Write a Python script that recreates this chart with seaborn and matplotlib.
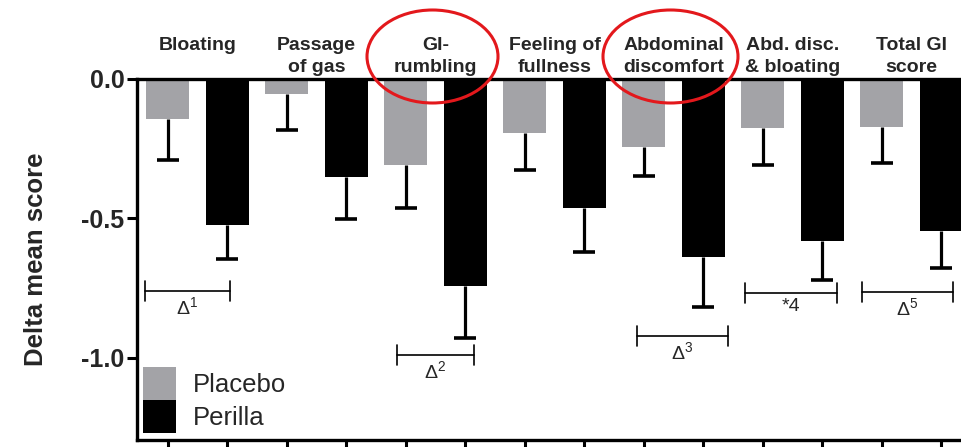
import numpy as np
import pandas as pd
import matplotlib
matplotlib.use("Agg")
import matplotlib.pyplot as plt
from matplotlib.patches import Ellipse
import seaborn as sns

categories = ["Bloating", "Passage\nof gas", "GI-\nrumbling", "Feeling of\nfullness",
              "Abdominal\ndiscomfort", "Abd. disc.\n& bloating", "Total GI\nscore"]
groups = ["Placebo", "Perilla"]
placebo = [-0.144, -0.054, -0.309, -0.195, -0.244, -0.177, -0.172]
perilla = [-0.524, -0.352, -0.743, -0.464, -0.640, -0.582, -0.546]
placebo_err = [0.146, 0.129, 0.155, 0.132, 0.103, 0.132, 0.130]
perilla_err = [0.122, 0.151, 0.187, 0.156, 0.178, 0.138, 0.134]

# significance brackets: (x start, x end, y, label)
brackets = [(-0.44, 0.27, -0.761, r"$\Delta^{1}$"),
            (1.68, 2.32, -0.991, r"$\Delta^{2}$"),
            (3.69, 4.46, -0.923, r"$\Delta^{3}$"),
            (4.60, 5.37, -0.768, "*4"),
            (5.58, 6.35, -0.765, r"$\Delta^{5}$")]

sns.set_theme(style="white")
plt.rcParams["font.family"] = ["Liberation Sans", "DejaVu Sans"]
plt.rcParams["mathtext.fontset"] = "custom"
plt.rcParams["mathtext.rm"] = "Liberation Sans"
plt.rcParams["mathtext.it"] = "Liberation Sans"

df = pd.DataFrame({
    "category": categories * 2,
    "group": [groups[0]] * len(categories) + [groups[1]] * len(categories),
    "value": placebo + perilla,
})

colors = {"Placebo": "#a3a3a7", "Perilla": "#000000"}

fig = plt.figure(figsize=(9.61, 4.47), dpi=100)
ax = fig.add_axes([137 / 961, 7 / 447, 1 - 137 / 961, (440 - 79) / 447])

sns.barplot(data=df, x="category", y="value", hue="group", order=categories,
            hue_order=groups, palette=colors, width=1.0, gap=0.28,
            saturation=1, errorbar=None, ax=ax, linewidth=0)

idx = np.arange(len(categories))
cap_half = 0.0925
for off, vals, errs in [(-0.25, placebo, placebo_err), (0.25, perilla, perilla_err)]:
    xs = idx + off
    lows = np.array(vals) - np.array(errs)
    ax.vlines(xs, vals, lows, color="black", lw=2.3, zorder=3)
    ax.hlines(lows, xs - cap_half, xs + cap_half, color="black", lw=2.6, zorder=3)

for x0, x1, y, lab in brackets:
    ax.plot([x0, x1], [y, y], color="black", lw=1.2)
    ax.plot([x0, x0], [y - 0.036, y + 0.036], color="black", lw=1.2)
    ax.plot([x1, x1], [y - 0.036, y + 0.036], color="black", lw=1.2)
    ax.text((x0 + x1) / 2, y - 0.02, lab, ha="center", va="top", fontsize=14)

ax.set_xlim(-0.508, 6.416)
ax.set_ylim(-1.296, 0)
ax.set_yticks([0.0, -0.5, -1.0])
ax.set_yticklabels(["0.0", "-0.5", "-1.0"], fontsize=18, fontweight="bold")
ax.set_xticks(np.concatenate([idx - 0.25, idx + 0.25]))
ax.set_xticklabels([])
ax.set_xlabel("")
ax.set_ylabel("Delta mean score", fontsize=18.5, fontweight="bold", labelpad=24)
ax.tick_params(axis="both", direction="out", length=7, width=2.2, color="black",
               left=True, bottom=True, pad=2)

for s in ["left", "bottom", "top"]:
    ax.spines[s].set_visible(True)
    ax.spines[s].set_linewidth(2.4)
    ax.spines[s].set_color("black")
ax.spines["right"].set_visible(False)

# category labels above the plot
for i, cat in enumerate(categories):
    lines = cat.split("\n")
    offsets = [20.9, 5.0]
    for ln, off in zip(lines, offsets):
        ax.annotate(ln, xy=(i, 1), xycoords=("data", "axes fraction"),
                    xytext=(0, off), textcoords="offset points",
                    ha="center", va="baseline", fontsize=14, fontweight="bold",
                    annotation_clip=False)

handles, labels = ax.get_legend_handles_labels()
ax.legend(handles, labels, loc="lower left", bbox_to_anchor=(6 / 824, 7 / 361),
          frameon=False, fontsize=18.5, handlelength=1.28, handleheight=1.6,
          labelspacing=0.0, handletextpad=0.66, borderpad=0, borderaxespad=0)

for cx, w in [(432.5, 131), (670.5, 135)]:
    e = Ellipse((cx / 961, 1 - 56.5 / 447), w / 961, 93 / 447,
                transform=fig.transFigure, fill=False, edgecolor="#e3181c",
                linewidth=2.2, zorder=10)
    fig.add_artist(e)

fig.savefig("out.png", dpi=100)
